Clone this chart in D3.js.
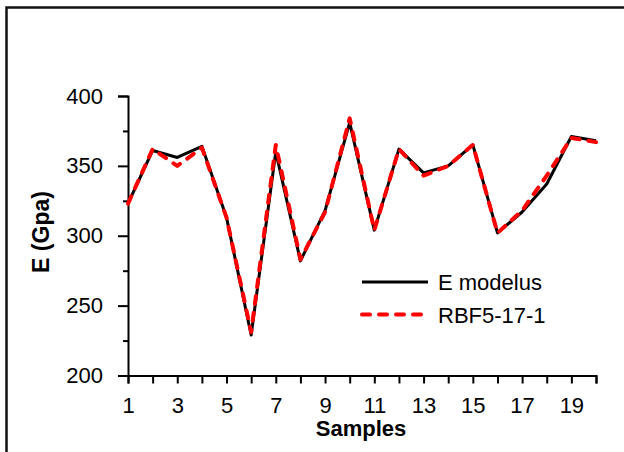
<!DOCTYPE html>
<html>
<head>
<meta charset="utf-8">
<script src="https://cdn.jsdelivr.net/npm/d3@7"></script>
<style>
  body { margin: 0; background: #fff; }
  svg text { font-family: "Liberation Sans", Arial, sans-serif; fill: #000; }
</style>
</head>
<body>
<div id="wrapper"></div>
<script>
// Data
const samples = d3.range(1, 21)
const eModulus = [323, 361, 356, 364, 313, 229, 360, 282, 318, 381, 304, 362, 345, 350, 365, 302, 317, 337, 371, 368]
const rbfModel = [323, 362, 350, 363, 313, 231, 365, 283, 317, 384, 304, 362, 343, 350, 365, 302, 318, 343, 370, 367]
const yTicks = [200, 250, 300, 350, 400]
const yMinorTicks = [225, 275, 325, 375]
const xLabels = [1, 3, 5, 7, 9, 11, 13, 15, 17, 19]

const series = [
  { name: 'E modelus', values: eModulus, color: '#000', width: 3, dash: null },
  { name: 'RBF5-17-1', values: rbfModel, color: '#ff0000', width: 4, dash: '8,9' },
]

function drawChart() {
  const width = 624
  const height = 452
  const fontSize = '22px'

  const svg = d3.select('#wrapper')
    .append('svg')
      .attr('width', width)
      .attr('height', height)

  // outer frame (cut off at right and bottom)
  svg.append('rect')
    .attr('x', 6.5)
    .attr('y', 7.5)
    .attr('width', 700)
    .attr('height', 500)
    .attr('fill', 'none')
    .attr('stroke', '#111')
    .attr('stroke-width', 2.5)

  // Scales
  const xScale = d3.scaleLinear()
    .domain([1, 20])
    .range([128, 596])

  const yScale = d3.scaleLinear()
    .domain([200, 400])
    .range([375.5, 96])

  // Y axis
  const yAxis = svg.append('g')
    .attr('transform', `translate(${xScale(1)},0)`)
    .call(d3.axisLeft(yScale).tickValues(yTicks).tickSize(10).tickPadding(15))
  yAxis.selectAll('text').style('font-size', fontSize)

  svg.append('g')
    .attr('transform', `translate(${xScale(1)},0)`)
    .call(d3.axisLeft(yScale).tickValues(yMinorTicks).tickSize(5).tickFormat(''))
    .select('.domain').remove()

  // X axis
  const xAxis = svg.append('g')
    .attr('transform', `translate(0,${yScale(200)})`)
    .call(d3.axisBottom(xScale).tickValues(samples).tickSize(8).tickPadding(14)
      .tickFormat(d => xLabels.includes(d) ? d : ''))
  xAxis.selectAll('text').style('font-size', fontSize)

  svg.selectAll('.domain, .tick line')
    .attr('stroke', '#000')
    .attr('stroke-width', 2)

  // Lines
  const line = values => d3.line()
    .x((d, i) => xScale(samples[i]))
    .y(d => yScale(d))(values)

  series.forEach(s => {
    svg.append('path')
      .attr('d', line(s.values))
      .attr('fill', 'none')
      .attr('stroke', s.color)
      .attr('stroke-width', s.width)
      .attr('stroke-linejoin', 'round')
      .attr('stroke-linecap', s.dash ? 'round' : 'butt')
      .attr('stroke-dasharray', s.dash)
  })

  // Axis titles
  svg.append('text')
    .attr('x', 361)
    .attr('y', 436)
    .attr('text-anchor', 'middle')
    .style('font-size', fontSize)
    .style('font-weight', 'bold')
    .text('Samples')

  svg.append('text')
    .attr('transform', 'translate(49,232) rotate(-90)')
    .attr('text-anchor', 'middle')
    .style('font-size', '23px')
    .style('font-weight', 'bold')
    .text('E (Gpa)')

  // Legend
  const legend = svg.append('g')
  series.forEach((s, i) => {
    const y = 282 + i * 32.5
    legend.append('line')
      .attr('x1', 362).attr('x2', 428)
      .attr('y1', y).attr('y2', y)
      .attr('stroke', s.color)
      .attr('stroke-width', s.width)
      .attr('stroke-linecap', s.dash ? 'round' : 'butt')
      .attr('stroke-dasharray', s.dash)
    legend.append('text')
      .attr('x', 438)
      .attr('y', y + 8)
      .style('font-size', fontSize)
      .text(s.name)
  })
}

drawChart()
</script>
</body>
</html>
